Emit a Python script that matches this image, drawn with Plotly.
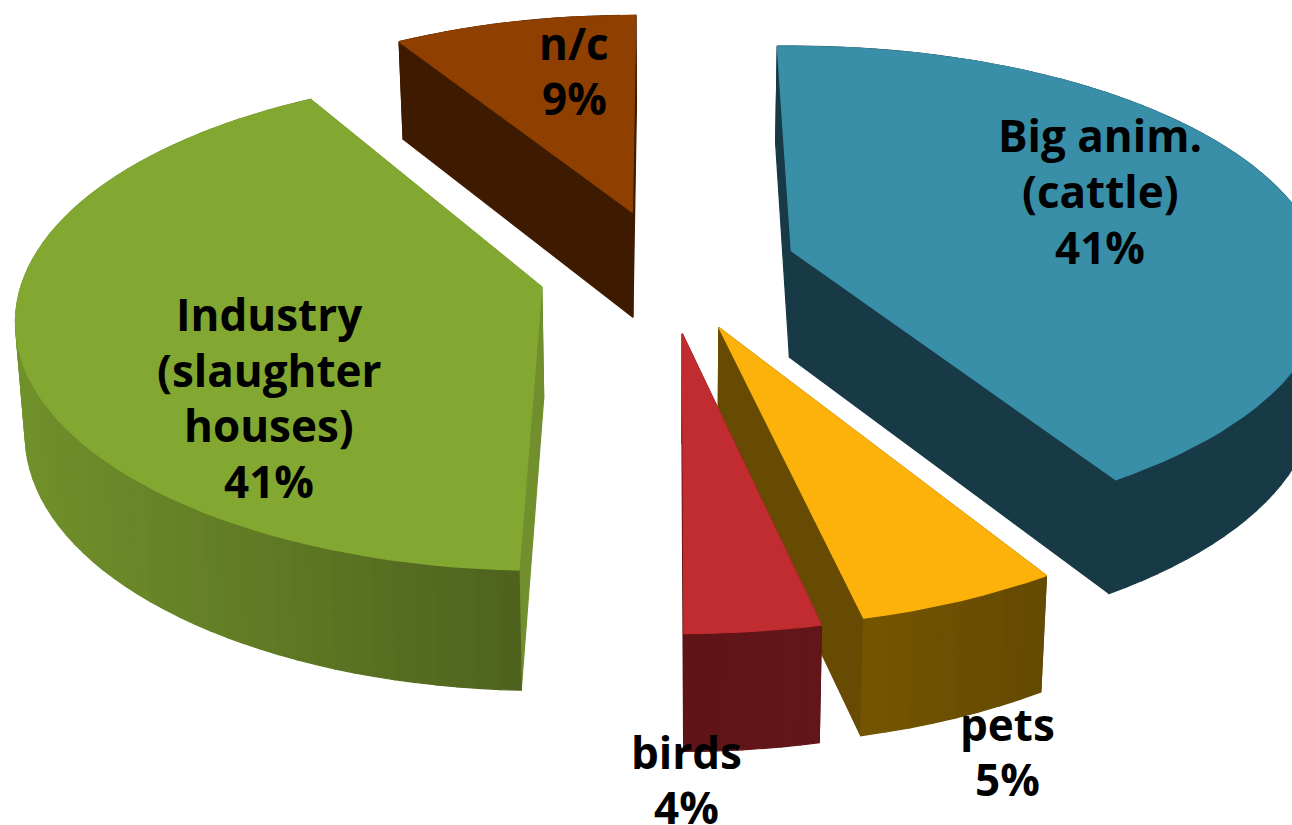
import numpy as np
import plotly.graph_objects as go

# ---- data
categories = ["Big anim. (cattle)", "pets", "birds", "Industry (slaughter houses)", "n/c"]
shares = [41.5, 5.1, 3.4, 41.1, 9.1]
start_angle = -1.75
gap_after = [1.1, 0.5, 2.3, -2.4, 0.0]   # small angular shifts between exploded slices

top_colors = ["#398EA8", "#FDB20B", "#C02C2F", "#82A832", "#8F4000"]
rim_left = ["#173A46", "#745600", "#5F1417", "#71912B", "#3E1B00"]
rim_right = ["#173A46", "#644902", "#62161A", "#4E621E", "#3E1B00"]
face_colors = ["#173A46", "#674B02", "#5F1417", "#728F2E", "#3E1B00"]
draw_order = [4, 0, 3, 1, 2]

label_lines = [["Big anim.", "(cattle)", "41%"], ["pets", "5%"], ["birds", "4%"],
               ["Industry", "(slaughter", "houses)", "41%"], ["n/c", "9%"]]
label_x = [1100, 1007, 686, 269, 574]
label_y = [135, 724, 752, 314, 43]
label_pitch = [56, 55, 55, 55.5, 55]

# ---- projection settings, slice by slice
slice_A = [528, 530, 530, 521, 506]
slice_B = [236, 243.6, 243.6, 243, 234]
slice_K = [0.153, 0.188, 0.188, 0.1425, 0.188]
slice_D = [107, 107, 107, 111, 107]
nudge_x = [-1, 2, 0, 0, 0]
nudge_y = [-3, -2, 0, 0, 0]
CX, CY = 668, 272
EX, EY, D1, TAPER = 130, 62, 8.7, 0.985
W, H = 1292, 825


def mix(c1, c2, t):
    a = [int(c1[i:i + 2], 16) for i in (1, 3, 5)]
    b = [int(c2[i:i + 2], 16) for i in (1, 3, 5)]
    return "#%02x%02x%02x" % tuple(round(p + (q - p) * t) for p, q in zip(a, b))


fig = go.Figure()


def poly(xs, ys, color):
    fig.add_trace(go.Scatter(x=list(xs) + [xs[0]], y=list(ys) + [ys[0]], mode="lines", fill="toself",
                             fillcolor=color, line=dict(color=color, width=1.2),
                             hoverinfo="skip", showlegend=False))


def bottom(sx, sy, Y, D0):
    return CX + (np.asarray(sx) - CX) * TAPER, np.asarray(sy) + D0 - D1 * np.asarray(Y)


starts, ends, angle = [], [], start_angle
for s, g in zip(shares, gap_after):
    starts.append(angle)
    angle += s * 3.6
    ends.append(angle)
    angle += g

for i in draw_order:
    a0, a1 = starts[i], ends[i]
    A, B, K, D0 = slice_A[i], slice_B[i], slice_K[i], slice_D[i]
    mid = np.radians((a0 + a1) / 2)
    ax = CX + EX * np.sin(mid) + nudge_x[i]
    ay = CY - EY * np.cos(mid) + nudge_y[i]
    th = np.radians(np.linspace(a0, a1, max(8, int((a1 - a0) / 2))))
    X, Y = np.sin(th), np.cos(th)
    w = 1 + K * Y
    tx, ty = ax + A * X / w, ay - B * Y / w
    oy = 0.25 * np.cos(mid)
    bx, by = bottom(tx, ty, Y + oy, D0)
    abx, aby = bottom(ax, ay, oy, D0)
    # cut faces
    poly([ax, tx[0], bx[0], abx], [ay, ty[0], by[0], aby], face_colors[i])
    poly([ax, tx[-1], bx[-1], abx], [ay, ty[-1], by[-1], aby], face_colors[i])
    # rim in strips, shaded left to right
    lo, hi = tx.min(), tx.max()
    for j in range(len(th) - 1):
        t = ((tx[j] + tx[j + 1]) / 2 - lo) / max(hi - lo, 1)
        poly([tx[j], tx[j + 1], bx[j + 1], bx[j]], [ty[j], ty[j + 1], by[j + 1], by[j]],
             mix(rim_left[i], rim_right[i], t))
    # top
    poly(np.concatenate([[ax], tx]), np.concatenate([[ay], ty]), top_colors[i])

annotations = []
for lines, lx, ly, p in zip(label_lines, label_x, label_y, label_pitch):
    for n, line in enumerate(lines):
        annotations.append(dict(x=lx, y=ly + n * p, xref="x", yref="y", text="<b>%s</b>" % line,
                                showarrow=False, xanchor="center", yanchor="middle",
                                font=dict(family="Open Sans", size=44, color="#000000")))

fig.update_layout(width=W, height=H, margin=dict(l=0, r=0, t=0, b=0), paper_bgcolor="white",
                  plot_bgcolor="white", annotations=annotations, showlegend=False,
                  xaxis=dict(range=[0, W], visible=False, fixedrange=True),
                  yaxis=dict(range=[H, 0], visible=False, fixedrange=True))
fig.write_html("out.html", config=dict(displayModeBar=False),
               post_script="document.body.style.margin='0';document.body.style.overflow='hidden';")
